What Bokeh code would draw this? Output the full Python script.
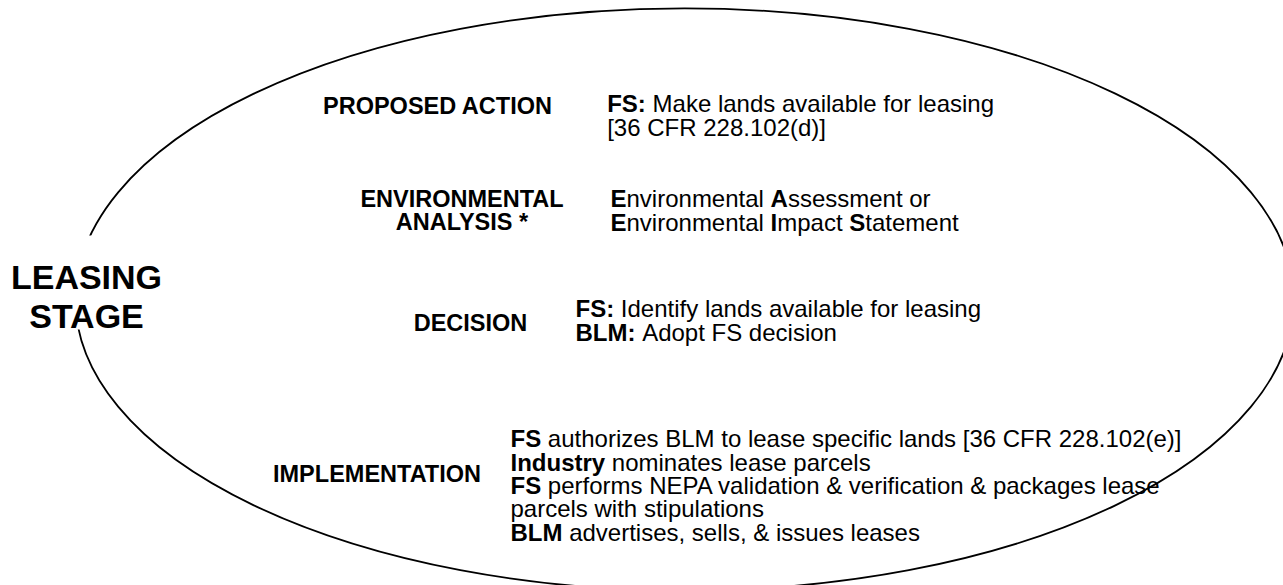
from bokeh.plotting import figure
from bokeh.models import Range1d, ColumnDataSource
from bokeh.core.properties import value
from bokeh.embed import file_html
from bokeh.resources import INLINE

# ---------------- content ----------------
stage_title = ["LEASING", "STAGE"]
step_labels = ["PROPOSED ACTION", "ENVIRONMENTAL", "ANALYSIS *", "DECISION", "IMPLEMENTATION"]
detail_lines = [
    "**FS:** Make lands available for leasing",
    "[36 CFR 228.102(d)]",
    "**E**nvironmental **A**ssessment or",
    "**E**nvironmental **I**mpact **S**tatement",
    "**FS:** Identify lands available for leasing",
    "**BLM:** Adopt FS decision",
    "**FS** authorizes BLM to lease specific lands [36 CFR 228.102(e)]",
    "**Industry** nominates lease parcels",
    "**FS** performs NEPA validation & verification & packages lease",
    "parcels with stipulations",
    "**BLM** advertises, sells, & issues leases",
]

# ---------------- layout ----------------
W, H = 1283, 585
FONT = "Liberation Sans"

p = figure(width=W, height=H, x_range=Range1d(0, W), y_range=Range1d(H, 0),
           output_backend="svg", toolbar_location=None, min_border=0)
p.axis.visible = False
p.grid.visible = False
p.outline_line_color = None
p.background_fill_color = "white"
p.border_fill_color = "white"

# outline ellipse
p.ellipse(x=[684.1], y=[299.0], width=[2 * 609.2], height=[2 * 291.1], angle=[0.0],
          fill_color=None, line_color="black", line_width=1.8)

# white mask behind the stage title
p.quad(left=[4], right=[168], top=[235], bottom=[329], fill_color="white", line_color=None)

# ---------------- text metrics (Arial / Liberation Sans advance widths) ----------------
REG = {" ": 278, "&": 667, "(": 333, ")": 333, "*": 389, ",": 278, ".": 278, ":": 278, "[": 278, "]": 278,
       "0": 556, "1": 556, "2": 556, "3": 556, "4": 556, "5": 556, "6": 556, "7": 556, "8": 556, "9": 556,
       "A": 667, "B": 667, "C": 722, "D": 722, "E": 667, "F": 611, "G": 778, "H": 722, "I": 278, "L": 556,
       "M": 833, "N": 722, "O": 778, "P": 667, "R": 722, "S": 667, "T": 611,
       "a": 556, "b": 556, "c": 500, "d": 556, "e": 556, "f": 278, "g": 556, "h": 556, "i": 222, "k": 500,
       "l": 222, "m": 833, "n": 556, "o": 556, "p": 556, "r": 333, "s": 500, "t": 278, "u": 556, "v": 500,
       "w": 722, "y": 500, "z": 500}
BOLD = {" ": 278, ":": 333, "A": 722, "B": 722, "E": 667, "F": 611, "I": 278, "L": 611, "M": 833, "S": 667,
        "d": 611, "n": 611, "r": 389, "s": 556, "t": 333, "u": 611, "y": 556}


def tw(txt, bold, size):
    tab = BOLD if bold else REG
    return sum(tab.get(ch, 556) for ch in txt) * size / 1000.0


SIZE = 24
line_pos = [(606.7, 103.3), (606.7, 126.8), (610, 198), (610, 221.7), (575, 308), (575, 331.5),
            (510, 438.3), (510, 461.7), (510, 485), (510, 508.3), (510, 532)]

segs = {True: dict(x=[], y=[], t=[]), False: dict(x=[], y=[], t=[])}
for line, (lx, ly) in zip(detail_lines, line_pos):
    xcur = lx
    for i, part in enumerate(line.split("**")):
        if not part:
            continue
        bold = (i % 2 == 1)
        lead = len(part) - len(part.lstrip(" "))
        xcur += tw(" " * lead, bold, SIZE)
        body = part.strip(" ")
        segs[bold]["x"].append(xcur)
        segs[bold]["y"].append(ly)
        segs[bold]["t"].append(body)
        xcur += tw(body, bold, SIZE)
        trail = len(part) - len(part.rstrip(" "))
        xcur += tw(" " * trail, bold, SIZE)

for bold in (True, False):
    src = ColumnDataSource(segs[bold])
    p.text(x="x", y="y", text="t", source=src, text_font=value(FONT), text_font_size=f"{SIZE}px",
           text_font_style="bold" if bold else "normal", text_color="black",
           text_align="left", text_baseline="alphabetic")

# step labels (bold, centred)
lab_pos = [(437.4, 105.5), (461.5, 198), (461.5, 221.7), (470, 322), (376.5, 473)]
p.text(x=[q[0] for q in lab_pos], y=[q[1] for q in lab_pos], text=step_labels,
       text_font=value(FONT), text_font_size="23.5px", text_font_style="bold", text_color="black",
       text_align="center", text_baseline="alphabetic")

# stage title
p.text(x=[86, 86], y=[276.5, 315], text=stage_title, text_font=value(FONT), text_font_size="34px",
       text_font_style="bold", text_color="black", text_align="center", text_baseline="alphabetic")

open("out.html", "w").write(file_html(p, INLINE))
